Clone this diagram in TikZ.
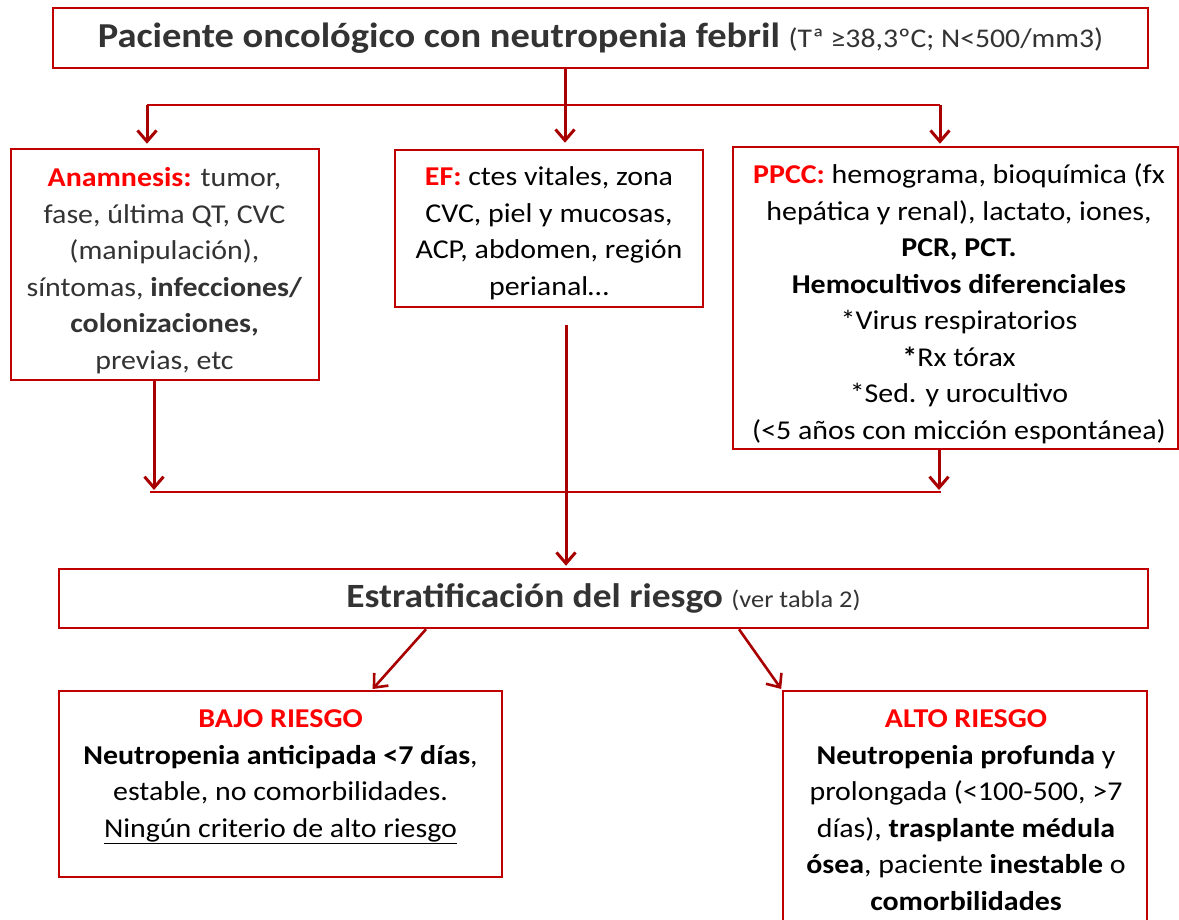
\documentclass[tikz,border=0pt]{standalone}
\usepackage{fontspec}
\setmainfont{Carlito}[FakeStretch=1.1]
\usetikzlibrary{arrows.meta}
\definecolor{bord}{HTML}{C00000}
\definecolor{arrc}{HTML}{A80000}
\definecolor{lab}{HTML}{FF0000}
\definecolor{gtxt}{HTML}{333333}
\newcommand\bdf{\fontsize{27.2}{36.5}\selectfont}
\tikzset{
  box/.style={draw=bord, line width=2.5pt, rectangle, inner sep=0pt},
  txt/.style={inner sep=0pt, align=center, font=\bdf, anchor=north},
  arr/.style={draw=arrc, line width=3pt, -{Straight Barb[length=11pt,width=19pt]}},
  darr/.style={draw=arrc, line width=2.6pt, -{Straight Barb[length=11pt,width=19pt]}},
  bus/.style={draw=bord, line width=1.5pt}
}
\begin{document}
\begin{tikzpicture}[x=1pt,y=-1pt]
\clip (0,0) rectangle (1179,920);
\fill[white] (0,0) rectangle (1179,920);

% title box
\node[box, minimum width=1095pt, minimum height=60pt, text=gtxt] (top) at (600.5,38)
  {\fontsize{35}{40}\selectfont\bfseries Paciente oncológico con neutropenia febril \fontsize{27}{32}\selectfont\mdseries (Tª ≥38,3ºC; N<500/mm3)};

% three boxes
\node[box, minimum width=308pt, minimum height=231pt] (anam) at (165,264.5) {};
\node[txt, text=gtxt] (anamt) at (164.5,167.5)
  {{\color{lab}\bfseries Anamnesis:} tumor,\\ fase, última QT, CVC\\ (manipulación),\\ síntomas, \textbf{infecciones/}\\ \textbf{colonizaciones,}\\ previas, etc};

\node[box, minimum width=308pt, minimum height=157pt] (ef) at (549,228.5) {};
\node[txt] (eft) at (549,166.5)
  {{\color{lab}\bfseries EF:} ctes vitales, zona\\ CVC, piel y mucosas,\\ ACP, abdomen, región\\ perianal…};

\node[box, minimum width=445pt, minimum height=302pt] (ppcc) at (955.5,298) {};
\node[txt] (ppcct) at (959,163.5)
  {{\color{lab}\bfseries PPCC:} hemograma, bioquímica (fx\\ hepática y renal), lactato, iones,\\ \textbf{PCR, PCT.}\\ \textbf{Hemocultivos diferenciales}\\ {*}Virus respiratorios\\ \textbf{*}Rx tórax\\ {*}Sed. y urocultivo\\ (<5 años con micción espontánea)};

% stratification
\node[box, minimum width=1089pt, minimum height=59pt, text=gtxt] (estr) at (603.5,598.5)
  {\fontsize{34}{40}\selectfont\bfseries Estratificación del riesgo \fontsize{24}{28}\selectfont\mdseries (ver tabla 2)};

% risk boxes
\node[box, minimum width=443pt, minimum height=186pt] (bajo) at (280.5,784) {};
\node[txt] (bajot) at (280.5,709.5)
  {{\color{lab}\bfseries BAJO RIESGO}\\ \textbf{Neutropenia anticipada <7 días},\\ estable, no comorbilidades.\\ \underline{Ningún criterio de alto riesgo}};

\node[box, minimum width=364pt, minimum height=249pt] (alto) at (965,815.5) {};
\node[txt] (altot) at (966,709.5)
  {{\color{lab}\bfseries ALTO RIESGO}\\ \textbf{Neutropenia profunda} y\\ prolongada (<100-500, >7\\ días), \textbf{trasplante médula}\\ \textbf{ósea}, paciente \textbf{inestable} o\\ \textbf{comorbilidades}};

% top distribution
\coordinate (bl) at (147,105);
\coordinate (bm) at (565,105);
\coordinate (br) at (940,105);
\draw[bus] (bl) -- (br);
\draw[arr, shorten >=6pt] (top.south -| bm) -- (bm |- ef.north);
\draw[arr, shorten >=4pt] (bl) -- (bl |- anam.north);
\draw[arr, shorten >=2pt] (br) -- (br |- ppcc.north);

% collection
\coordinate (cl) at (150,492);
\coordinate (al) at (154,492);
\coordinate (ar) at (939,492);
\coordinate (cr) at (941,492);
\draw[bus] (cl) -- (cr);
\draw[arr, shorten >=2pt] (al |- anam.south) -- (al);
\draw[arr, shorten >=2pt] (ar |- ppcc.south) -- (ar);
\coordinate (ms) at (566,325);
\draw[arr, shorten >=2pt] (ms) -- (ms |- estr.north);

% risk branches
\draw[darr, shorten >=1pt] ([xshift=-177.5pt]estr.south) -- ([xshift=91.5pt]bajo.north);
\draw[darr, shorten >=1pt] ([xshift=135.5pt]estr.south) -- (alto.north west);
\end{tikzpicture}
\end{document}
